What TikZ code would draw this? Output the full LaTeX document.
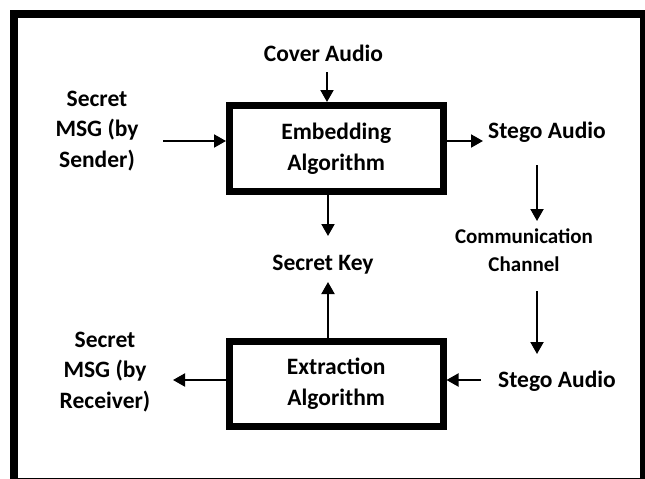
\documentclass[tikz,border=0pt]{standalone}
\usepackage{fontspec}
\setmainfont{Carlito}
\usetikzlibrary{arrows.meta}
\begin{document}
\begin{tikzpicture}[x=1pt,y=-1pt,
  lbl/.style={font=\bfseries\fontsize{23.5}{30.5}\selectfont, inner sep=0pt, align=center},
  sml/.style={font=\bfseries\fontsize{21}{28}\selectfont, inner sep=0pt, align=center},
  blk/.style={draw, line width=7pt, minimum width=213.5pt, minimum height=85.5pt, inner sep=0pt, align=center, font=\bfseries\fontsize{23.5}{31}\selectfont},
  arr/.style={line width=2pt, -{Triangle[length=12pt,width=13pt]}}]
\useasboundingbox (0,0) rectangle (645,479);
% outer frame
\fill (10,10) rectangle (18,479);
\fill (10,10) rectangle (645,18);
\fill (640,10) rectangle (645,479);
\fill (10,477.5) rectangle (645,479);
% blocks
\node[blk] (emb) at (336.25,148.25) {Embedding\\Algorithm};
\node[blk] (ext) at (336.25,384) {Extraction\\Algorithm};
% labels (multi-line nodes: base = baseline of last line)
\node[lbl, anchor=base] (cover) at (323.5,61) {Cover Audio};
\node[lbl, anchor=base] (sms) at (97,167) {Secret\\MSG (by\\Sender)};
\node[lbl, anchor=base] (st1) at (547,138) {Stego Audio};
\node[sml, anchor=base] (cc) at (524,271) {Communication\\Channel};
\node[lbl, anchor=base] (sk) at (323,270) {Secret Key};
\node[lbl, anchor=base] (st2) at (557,387) {Stego Audio};
\node[lbl, anchor=base] (smr) at (105,408) {Secret\\MSG (by\\Receiver)};
% connectors
\coordinate (a1) at (327,72);
\draw[arr] (a1) -- (a1 |- emb.north);
\coordinate (a2) at (163,141);
\draw[arr] (a2) -- (a2 -| emb.west);
\coordinate (a3) at (483,141);
\draw[arr] (a3 -| emb.east) -- (a3);
\coordinate (a4) at (537,165);
\coordinate (a4b) at (537,221);
\draw[arr] (a4) -- (a4b);
\coordinate (a5) at (537,291);
\coordinate (a5b) at (537,354);
\draw[arr] (a5) -- (a5b);
\coordinate (a6) at (481,380);
\draw[arr] (a6) -- (a6 -| ext.east);
\coordinate (a7) at (173,380);
\draw[arr] (a7 -| ext.west) -- (a7);
\coordinate (a8) at (328,236);
\draw[arr] (a8 |- emb.south) -- (a8);
\coordinate (a9) at (328,282);
\draw[arr] (a9 |- ext.north) -- (a9);
\end{tikzpicture}
\end{document}
